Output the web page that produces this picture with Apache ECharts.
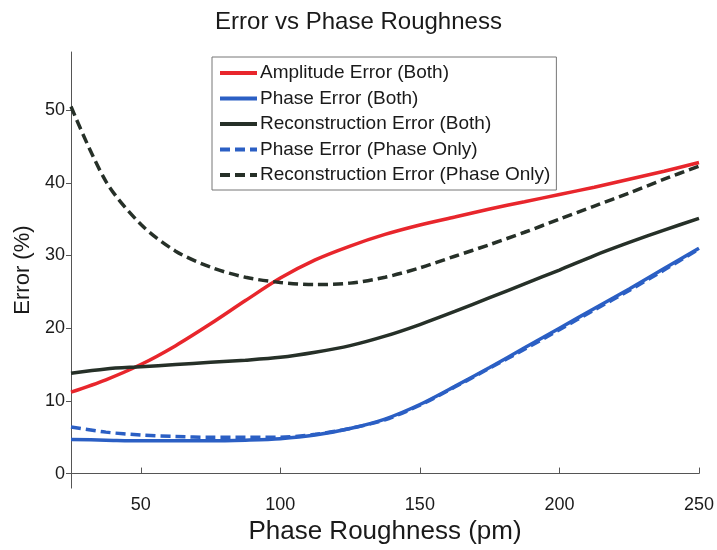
<!DOCTYPE html>
<html>
<head>
<meta charset="utf-8">
<script src="https://cdn.jsdelivr.net/npm/echarts@6/dist/echarts.min.js"></script>
<style>
  html, body { margin: 0; padding: 0; background: #fff; }
  #chart { width: 717px; height: 550px; }
</style>
</head>
<body>
<div id="chart"></div>
<script>
// phase roughness (pm)
var roughness = [25, 37.5, 50, 62.5, 75, 87.5, 100, 112.5, 125, 137.5, 150, 162.5, 175, 187.5, 200, 212.5, 225, 237.5, 250];

var ampBoth   = [11.2, 12.9, 15.0, 17.6, 20.6, 23.8, 26.9, 29.4, 31.3, 32.9, 34.2, 35.3, 36.4, 37.4, 38.4, 39.4, 40.5, 41.6, 42.8];
var phaseBoth = [4.7, 4.6, 4.5, 4.5, 4.5, 4.6, 4.8, 5.3, 6.2, 7.5, 9.5, 12.0, 14.6, 17.3, 20.0, 22.7, 25.4, 28.2, 31.0];
var reconBoth = [13.8, 14.4, 14.7, 15.0, 15.3, 15.6, 16.0, 16.7, 17.6, 18.9, 20.5, 22.3, 24.2, 26.1, 28.0, 30.0, 31.8, 33.5, 35.1];
var phaseOnly = [6.4, 5.7, 5.3, 5.1, 5.0, 5.0, 5.0, 5.4, 6.2, 7.4, 9.4, 11.9, 14.5, 17.1, 19.8, 22.5, 25.2, 28.0, 30.9];
var reconOnly = [50.5, 40.2, 34.3, 30.6, 28.4, 27.0, 26.3, 26.0, 26.2, 27.0, 28.3, 29.9, 31.5, 33.2, 35.0, 36.8, 38.6, 40.5, 42.3];

var names = ['Amplitude Error (Both)', 'Phase Error (Both)', 'Reconstruction Error (Both)', 'Phase Error (Phase Only)', 'Reconstruction Error (Phase Only)'];
var xTicks = [50, 100, 150, 200, 250];
var yTicks = [0, 10, 20, 30, 40, 50];

var font = '"Liberation Sans", Arial, sans-serif';

function pairs(ys){
    var out = [];
    for(var i = 0; i < roughness.length; i++){
        out.push([roughness[i], ys[i]]);
    }
    return out;
}

function line(name, ys, color, dash){
    return {
        name: name,
        type: 'line',
        data: pairs(ys),
        smooth: 0.3,
        symbol: 'none',
        lineStyle: { color: color, width: 3.5, type: dash ? [10, 5] : 'solid' },
        itemStyle: { color: color }
    };
}

var myChart = echarts.init(document.getElementById('chart'));
var option = {
    backgroundColor: '#fff',
    animation: false,
    title: {
        text: 'Error vs Phase Roughness',
        left: 'center',
        top: 5,
        textStyle: { fontFamily: font, fontSize: 24, fontWeight: 'normal', color: '#1a1a1a' }
    },
    legend: {
        orient: 'vertical',
        left: 212,
        top: 57,
        padding: [6, 6, 5, 6],
        itemWidth: 37,
        itemHeight: 14,
        itemGap: 5.5,
        borderColor: '#777',
        borderWidth: 1,
        backgroundColor: '#fff',
        itemStyle: { opacity: 0 },
        lineStyle: { width: 4 },
        data: names,
        textStyle: { fontFamily: font, fontSize: 19, color: '#1a1a1a', lineHeight: 20, padding: [0, 0, 0, -2] }
    },
    grid: { left: 71, right: 16, top: 52, bottom: 53 },
    xAxis: {
        type: 'value',
        min: 25,
        max: 250,
        name: 'Phase Roughness (pm)',
        nameLocation: 'middle',
        nameGap: 24,
        nameTextStyle: { fontFamily: font, fontSize: 26, color: '#1a1a1a' },
        axisLine: { lineStyle: { color: '#555', width: 1 } },
        axisTick: { inside: true, length: 6, customValues: xTicks, lineStyle: { color: '#555' } },
        axisLabel: { customValues: xTicks, margin: 8, fontFamily: font, fontSize: 18, color: '#1a1a1a' },
        splitLine: { show: false }
    },
    yAxis: {
        type: 'value',
        min: -2,
        max: 58,
        name: 'Error (%)',
        nameLocation: 'middle',
        nameGap: 33,
        nameTextStyle: { fontFamily: font, fontSize: 22, color: '#1a1a1a' },
        axisLine: { show: true, lineStyle: { color: '#555', width: 1 } },
        axisTick: { show: true, length: 5, customValues: yTicks, lineStyle: { color: '#555' } },
        axisLabel: { customValues: yTicks, margin: 6, fontFamily: font, fontSize: 18, color: '#1a1a1a' },
        splitLine: { show: false }
    },
    series: [
        line(names[0], ampBoth, '#e8262c', false),
        line(names[1], phaseBoth, '#2b5fc4', false),
        line(names[2], reconBoth, '#263028', false),
        line(names[3], phaseOnly, '#2b5fc4', true),
        line(names[4], reconOnly, '#263028', true)
    ]
};
myChart.setOption(option);
</script>
</body>
</html>
